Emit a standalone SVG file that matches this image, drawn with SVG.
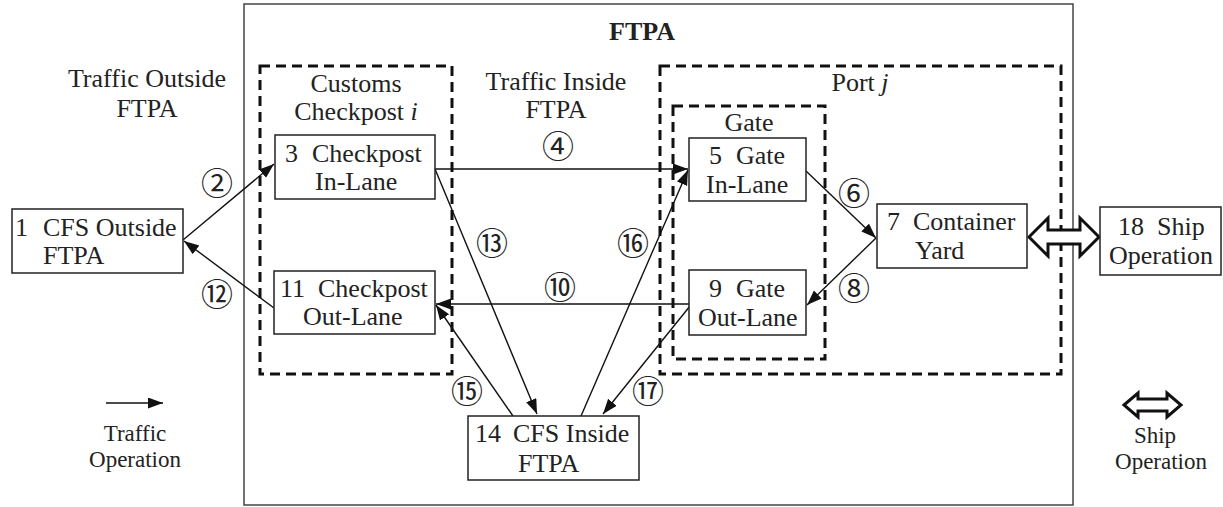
<svg xmlns="http://www.w3.org/2000/svg" width="1223" height="507" viewBox="0 0 1223 507">
<defs>
<marker id="ah" markerUnits="userSpaceOnUse" markerWidth="16" markerHeight="12" refX="15" refY="5.5" orient="auto">
<path d="M0,0 L15,5.5 L0,11 z" fill="#111"/>
</marker>
<style>
text{font-family:"Liberation Serif","Times New Roman",serif;font-size:26px;fill:#222}
.c{text-anchor:middle}
.lg{font-size:23px}
.num{font-family:"Liberation Serif","Noto Sans CJK JP",serif;font-size:32px;text-anchor:middle}
.box{fill:#fff;stroke:#222;stroke-width:1.5}
.dash{fill:none;stroke:#111;stroke-width:3;stroke-dasharray:10 6}
.conn{stroke:#111;stroke-width:1.4;fill:none}
.hollow{fill:#fff;stroke:#111;stroke-width:3;stroke-linejoin:miter}
</style>
</defs>

<g id="ftpa">
<rect x="244" y="4" width="829" height="501" fill="none" stroke="#444" stroke-width="1.5"/>
<text x="642" y="40" class="c" font-weight="bold">FTPA</text>
</g>

<g id="labels">
<text x="147" y="87" class="c">Traffic Outside</text>
<text x="147" y="117" class="c">FTPA</text>
<text x="556" y="90" class="c">Traffic Inside</text>
<text x="556" y="118" class="c">FTPA</text>
</g>

<g id="customs">
<rect class="dash" x="260" y="66" width="192" height="308"/>
<text x="356" y="92" class="c">Customs</text>
<text x="356" y="120" class="c">Checkpost <tspan font-style="italic">i</tspan></text>
</g>

<g id="port">
<rect class="dash" x="660" y="66" width="401" height="308"/>
<text x="860" y="91" class="c">Port <tspan font-style="italic">j</tspan></text>
</g>

<g id="gate">
<rect class="dash" x="673" y="106" width="152" height="253"/>
<text x="749" y="131" class="c">Gate</text>
</g>

<g id="connectors">
<line class="conn" x1="183" y1="240" x2="274" y2="164" marker-end="url(#ah)"/>
<line class="conn" x1="274" y1="308" x2="184" y2="241" marker-end="url(#ah)"/>
<line class="conn" x1="435" y1="169" x2="688" y2="169" marker-end="url(#ah)"/>
<line class="conn" x1="806" y1="171" x2="876" y2="238" marker-end="url(#ah)"/>
<line class="conn" x1="876" y1="238" x2="807" y2="305" marker-end="url(#ah)"/>
<line class="conn" x1="689" y1="304" x2="436" y2="304" marker-end="url(#ah)"/>
<line class="conn" x1="435" y1="169" x2="537" y2="414" marker-end="url(#ah)"/>
<line class="conn" x1="513" y1="416" x2="436" y2="305" marker-end="url(#ah)"/>
<line class="conn" x1="581" y1="416" x2="688" y2="170" marker-end="url(#ah)"/>
<line class="conn" x1="690" y1="306" x2="603" y2="414" marker-end="url(#ah)"/>
<polygon class="hollow" points="1029,237 1048,218 1048,230 1080,230 1080,218 1099,237 1080,256 1080,244 1048,244 1048,256"/>
<text x="217" y="195" class="num">②</text>
<text x="558" y="158" class="num">④</text>
<text x="854" y="205" class="num">⑥</text>
<text x="854" y="300" class="num">⑧</text>
<text x="560" y="299" class="num">⑩</text>
<text x="217" y="306" class="num">⑫</text>
<text x="492" y="255" class="num">⑬</text>
<text x="467" y="403" class="num">⑮</text>
<text x="633" y="255" class="num">⑯</text>
<text x="648" y="403" class="num">⑰</text>
</g>

<g id="n1">
<rect class="box" x="12" y="209" width="171" height="64"/>
<text y="236"><tspan x="15">1</tspan><tspan x="43">CFS Outside</tspan></text>
<text x="43" y="264">FTPA</text>
</g>

<g id="n3">
<rect class="box" x="275" y="135" width="160" height="64"/>
<text y="162"><tspan x="285">3</tspan><tspan x="312">Checkpost</tspan></text>
<text x="315" y="190">In-Lane</text>
</g>

<g id="n11">
<rect class="box" x="274" y="271" width="161" height="63"/>
<text y="297"><tspan x="280">11</tspan><tspan x="318">Checkpost</tspan></text>
<text x="303" y="325">Out-Lane</text>
</g>

<g id="n5">
<rect class="box" x="689" y="138" width="117" height="63"/>
<text y="164"><tspan x="709">5</tspan><tspan x="736">Gate</tspan></text>
<text x="706" y="193">In-Lane</text>
</g>

<g id="n9">
<rect class="box" x="689" y="270" width="117" height="65"/>
<text y="297"><tspan x="709">9</tspan><tspan x="736">Gate</tspan></text>
<text x="698" y="326">Out-Lane</text>
</g>

<g id="n7">
<rect class="box" x="877" y="204" width="150" height="64"/>
<text y="230"><tspan x="887">7</tspan><tspan x="913">Container</tspan></text>
<text x="915" y="259">Yard</text>
</g>

<g id="n18">
<rect class="box" x="1100" y="207" width="121" height="68"/>
<text y="235"><tspan x="1118">18</tspan><tspan x="1157">Ship</tspan></text>
<text x="1109" y="264">Operation</text>
</g>

<g id="n14">
<rect class="box" x="468" y="416" width="171" height="64"/>
<text y="442"><tspan x="475">14</tspan><tspan x="513">CFS Inside</tspan></text>
<text x="518" y="472">FTPA</text>
</g>

<g id="legend">
<line class="conn" x1="106" y1="403" x2="163" y2="403" marker-end="url(#ah)"/>
<text x="135" y="441" class="c lg">Traffic</text>
<text x="135" y="467" class="c lg">Operation</text>
<polygon class="hollow" stroke-width="2.5" points="1124,405 1138,393 1138,399 1167,399 1167,393 1181,405 1167,417 1167,411 1138,411 1138,417"/>
<text x="1155" y="443" class="c lg">Ship</text>
<text x="1161" y="469" class="c lg">Operation</text>
</g>
</svg>
